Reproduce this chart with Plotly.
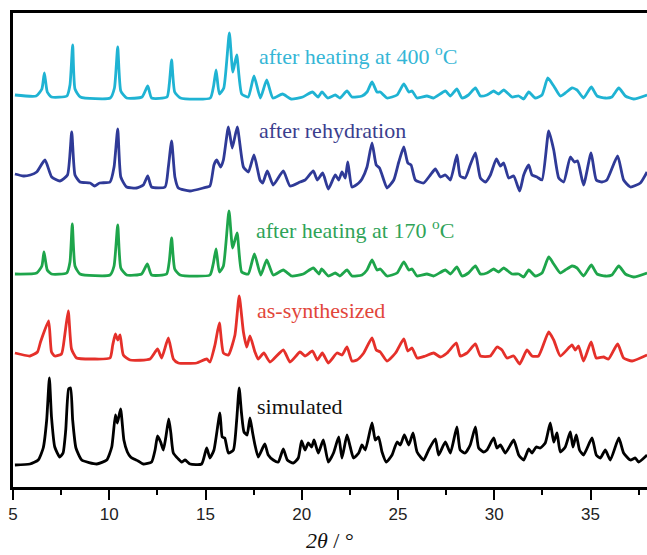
import plotly.graph_objects as go

# ---- Data: (2theta, intensity above own baseline, arbitrary units) ----
after_400C = [
    (5.1, 2), (6.2, 1), (6.5, 8), (6.63, 24), (6.78, 5), (7.0, 0), (7.8, 1), (7.96, 12), (8.1, 52),
    (8.22, 8), (8.5, 0), (10.05, -1), (10.27, 9), (10.44, 50), (10.6, 6), (10.9, -1), (11.7, 0),
    (12.0, 11), (12.2, -1), (13.0, 0), (13.12, 13), (13.24, 37), (13.4, 5), (13.7, -1), (15.25, -1),
    (15.42, 11), (15.55, 27), (15.72, 3), (15.95, 9), (16.24, 64), (16.42, 25), (16.62, 42),
    (16.88, 3), (17.22, 0), (17.52, 21), (17.85, -1), (18.18, 17), (18.5, -1), (19.0, 3),
    (19.45, -2), (20.05, 0), (20.55, 5), (20.85, 0), (21.05, 5), (21.35, -1),
    (21.74, 2), (21.98, -1), (22.35, 6), (22.61, 0), (23.13, 1), (23.39, 5), (23.65, 15), (23.91, 5),
    (24.08, 5), (24.43, -1), (24.95, 2), (25.3, 13), (25.56, 5), (25.73, 6), (25.99, -1), (26.5, 1),
    (26.85, -1), (27.46, 6), (27.72, 1), (28.06, 8), (28.32, -1), (28.66, 2), (29.02, 9), (29.28, 1),
    (29.62, 2), (29.97, 6), (30.23, 3), (30.49, 7), (30.92, 0), (31.27, 1), (31.53, -2), (31.79, 5),
    (32.13, -1), (32.48, 2), (32.78, 19), (33.09, 11), (33.43, 1), (33.69, 4), (34.04, 9), (34.3, 7),
    (34.64, -1), (35.04, 10), (35.34, 1), (35.77, -1), (36.11, 0), (36.47, 9), (36.81, 1),
    (37.24, -2), (37.94, 2),
]

after_rehydration = [
    (5.1, 16), (5.54, 14), (5.9, 15), (6.23, 18), (6.66, 30), (7.01, 13), (7.44, 9), (7.83, 15),
    (8.05, 58), (8.22, 15), (8.48, 8), (9.0, 7), (9.24, 4), (9.5, 7), (10.04, 8), (10.25, 23),
    (10.44, 61), (10.6, 13), (10.9, 3), (11.42, 2), (11.77, 5), (12.0, 14), (12.2, 3), (12.9, 3),
    (13.07, 23), (13.24, 49), (13.41, 13), (13.59, 2), (14.19, -1), (14.88, 2), (15.23, 4),
    (15.44, 25), (15.58, 30), (15.79, 23), (15.93, 30), (16.19, 63), (16.39, 42), (16.65, 63),
    (16.97, 23), (17.23, 18), (17.52, 35), (17.83, 10), (17.97, 7), (18.21, 19), (18.52, 5),
    (19.04, 19), (19.39, 4), (19.91, 8), (20.17, 10), (20.6, 19), (20.81, 10), (21.09, 17),
    (21.38, 1), (21.74, 15), (21.92, 10), (22.09, 18), (22.26, 12), (22.39, 28), (22.61, 3),
    (22.96, 7), (23.13, 11), (23.39, 23), (23.65, 47), (23.87, 25), (24.04, 22), (24.26, 10),
    (24.43, 2), (24.78, 10), (25.04, 28), (25.3, 43), (25.51, 27), (25.68, 25), (25.9, 10),
    (26.33, 7), (26.68, 15), (26.94, 21), (27.2, 13), (27.46, 15), (27.72, 10), (28.06, 35),
    (28.23, 14), (28.49, 12), (28.75, 25), (29.02, 37), (29.28, 12), (29.54, 8), (29.8, 15),
    (30.11, 31), (30.32, 24), (30.49, 27), (30.75, 12), (31.01, 14), (31.32, -1), (31.53, 15),
    (31.79, 25), (31.96, 15), (32.22, 13), (32.48, 10), (32.83, 59), (33.09, 40), (33.35, 12),
    (33.61, 8), (33.95, 33), (34.16, 28), (34.33, 29), (34.64, 5), (35.03, 37), (35.3, 10),
    (35.6, 8), (35.85, 10), (36.41, 34), (36.72, 10), (37.07, 3), (37.59, 7), (37.94, 18),
]

after_170C = [
    (5.1, 0), (6.23, 1), (6.5, 8), (6.61, 22), (6.78, 4), (7.0, 0), (7.79, 1), (7.96, 12), (8.08, 50),
    (8.22, 8), (8.48, 0), (10.04, -1), (10.25, 8), (10.44, 49), (10.6, 6), (10.9, -1), (11.68, 0),
    (11.98, 10), (12.2, -1), (12.98, 0), (13.12, 13), (13.24, 36), (13.4, 5), (13.68, -1),
    (15.23, -1), (15.4, 10), (15.55, 25), (15.72, 2), (15.93, 8), (16.22, 63), (16.41, 26),
    (16.64, 41), (16.88, 2), (17.22, 0), (17.54, 20), (17.87, -1), (18.18, 14), (18.52, -1),
    (19.04, 4), (19.48, -2), (20.08, 0), (20.6, 6), (20.9, 0), (21.03, 5), (21.38, -2),
    (21.74, 1), (21.98, -2), (22.35, 4), (22.61, -2), (23.13, -1), (23.39, 4), (23.65, 14),
    (23.91, 4), (24.08, 5), (24.43, -2), (24.95, 1), (25.3, 12), (25.56, 4), (25.73, 5), (25.99, -2),
    (26.5, 0), (26.85, -2), (27.46, 4), (27.72, 0), (28.06, 7), (28.32, -2), (28.66, 1), (29.02, 8),
    (29.28, 0), (29.62, 1), (29.97, 5), (30.23, 2), (30.49, 6), (30.92, 0), (31.27, 0), (31.53, -3),
    (31.79, 4), (32.13, -2), (32.48, 1), (32.83, 17), (33.09, 10), (33.43, 1), (33.69, 4),
    (34.04, 8), (34.3, 6), (34.64, -2), (35.04, 9), (35.34, 0), (35.77, -2), (36.11, -1),
    (36.47, 8), (36.81, 0), (37.24, -3), (37.94, 1),
]

as_synthesized = [
    (5.1, 10), (5.88, 7), (6.27, 11), (6.43, 21), (6.85, 42), (7.0, 11), (7.17, 7), (7.52, 9),
    (7.69, 28), (7.87, 52), (8.04, 14), (8.3, 5), (9.17, 4), (10.04, 5), (10.18, 18), (10.32, 29),
    (10.44, 23), (10.56, 28), (10.73, 8), (11.08, 3), (12.12, 4), (12.51, 14), (12.72, 5),
    (13.07, 25), (13.33, 4), (13.59, 0), (14.54, 0), (15.06, 4), (15.23, 1), (15.49, 18),
    (15.72, 40), (15.93, 10), (16.19, 8), (16.53, 28), (16.75, 67), (16.97, 31), (17.14, 16),
    (17.31, 27), (17.57, 11), (17.74, 4), (18.03, 10), (18.35, 1), (19.04, 13), (19.39, 1),
    (19.91, 11), (20.17, 7), (20.56, 12), (20.81, 3), (21.07, 10), (21.38, 0), (21.83, 10),
    (22.09, 8), (22.35, 16), (22.61, 2), (22.87, 3), (23.22, 10), (23.65, 25), (23.87, 13),
    (24.08, 11), (24.43, 2), (24.87, 10), (25.3, 24), (25.51, 12), (25.73, 15), (25.99, 5),
    (26.42, 7), (26.85, 10), (27.2, 6), (27.55, 10), (28.03, 20), (28.23, 7), (28.58, 10),
    (29.02, 19), (29.28, 7), (29.8, 7), (30.14, 16), (30.4, 13), (30.66, 5), (31.01, 7),
    (31.32, -1), (31.7, 13), (31.96, 7), (32.3, 7), (32.83, 31), (33.09, 23), (33.43, 7),
    (34.04, 18), (34.21, 13), (34.38, 17), (34.64, 2), (35.03, 21), (35.3, 5), (35.68, 6),
    (35.94, 4), (36.41, 19), (36.72, 5), (37.16, 2), (37.94, 8),
]

simulated = [
    (5.1, 0), (5.88, 1), (6.31, 5), (6.57, 17), (6.75, 45), (6.89, 87), (7.0, 48), (7.17, 18),
    (7.43, 8), (7.6, 12), (7.74, 35), (7.89, 76), (7.99, 77), (8.1, 45), (8.27, 17), (8.57, 5),
    (9.35, 1), (9.87, 5), (10.13, 18), (10.32, 50), (10.42, 42), (10.59, 56), (10.76, 25),
    (10.94, 13), (11.11, 8), (11.28, 6), (11.5, 4), (11.77, 1), (12.2, 3), (12.38, 15), (12.51, 29),
    (12.67, 23), (12.81, 15), (12.94, 28), (13.09, 46), (13.2, 32), (13.33, 12), (13.59, 6),
    (13.76, 3), (13.94, 5), (14.2, 1), (14.8, 1), (15.06, 17), (15.23, 7), (15.44, 15),
    (15.75, 52), (15.87, 28), (16.0, 27), (16.19, 12), (16.45, 15), (16.62, 45), (16.75, 77),
    (16.87, 52), (17.0, 33), (17.16, 30), (17.31, 47), (17.45, 32), (17.57, 20), (17.74, 8),
    (18.08, 21), (18.26, 10), (18.52, 5), (18.78, 3), (19.04, 16), (19.25, 5), (19.56, 2),
    (19.82, 7), (19.99, 24), (20.17, 15), (20.34, 22), (20.51, 18), (20.64, 25), (20.86, 12),
    (21.12, 25), (21.38, 3), (21.65, 12), (21.92, 28), (22.09, 7), (22.35, 30), (22.52, 18),
    (22.69, 7), (22.96, 12), (23.13, 20), (23.3, 15), (23.65, 42), (23.82, 25), (23.99, 28),
    (24.17, 13), (24.39, 3), (24.69, 10), (24.95, 23), (25.12, 20), (25.33, 30), (25.56, 20),
    (25.78, 32), (25.99, 13), (26.33, 5), (26.59, 15), (26.94, 26), (27.11, 10), (27.46, 23),
    (27.72, 12), (28.06, 38), (28.23, 15), (28.49, 12), (28.75, 20), (29.02, 38), (29.19, 17),
    (29.45, 13), (29.62, 15), (29.97, 27), (30.14, 17), (30.32, 20), (30.58, 12), (31.01, 25),
    (31.27, 10), (31.53, 5), (31.79, 16), (31.96, 12), (32.18, 18), (32.39, 17), (32.65, 22),
    (32.91, 42), (33.09, 23), (33.26, 32), (33.43, 13), (33.69, 18), (33.95, 33), (34.09, 18),
    (34.26, 30), (34.43, 15), (34.64, 10), (35.08, 27), (35.3, 10), (35.51, 7), (35.77, 15),
    (36.03, 5), (36.47, 27), (36.72, 12), (37.07, 5), (37.33, 7), (37.5, 3), (37.94, 10),
]

series_data = [after_400C, after_rehydration, after_170C, as_synthesized, simulated]
series_labels = ["after heating at 400 <sup>o</sup>C", "after rehydration",
                 "after heating at 170 <sup>o</sup>C", "as-synthesized", "simulated"]
stack_offsets = [390, 297, 213, 124, 22]
label_levels = [432, 357, 258, 177, 81]
label_starts = [17.68, 17.68, 17.52, 17.57, 17.57]
line_colors = ["#1fb3d3", "#2f3a97", "#1ea54b", "#e5302a", "#000000"]
text_colors = ["#35b6d6", "#3b3e8e", "#2fa358", "#e2463a", "#111111"]
tick_values = [5, 10, 15, 20, 25, 30, 35]

fig = go.Figure()
for data, off, col in zip(series_data, stack_offsets, line_colors):
    xs = [p[0] for p in data]
    ys = [p[1] + off for p in data]
    fig.add_trace(go.Scatter(x=xs, y=ys, mode="lines",
                             line=dict(color=col, width=2.8, shape="spline", smoothing=0.5),
                             showlegend=False, hoverinfo="skip"))

for lab, lvl, xs, tc in zip(series_labels, label_levels, label_starts, text_colors):
    fig.add_annotation(x=xs, y=lvl, xref="x", yref="y", text=lab, showarrow=False,
                       xanchor="left", yanchor="middle",
                       font=dict(family="Liberation Serif", size=22, color=tc))

fig.add_annotation(x=0.5, y=-0.112, xref="paper", yref="paper",
                   text="<i>2θ</i> / °", showarrow=False, xanchor="center", yanchor="middle",
                   font=dict(family="Liberation Serif", size=22, color="#111111"))

fig.update_layout(
    width=647, height=555,
    margin=dict(l=13, r=0, t=13, b=68, autoexpand=False),
    paper_bgcolor="white", plot_bgcolor="white",
    xaxis=dict(range=[5, 5 + 634 / 19.25], tickvals=tick_values, ticks="outside",
               ticklen=10, tickwidth=2, tickcolor="black",
               minor=dict(tickvals=[7.5, 12.5, 17.5, 22.5, 27.5, 32.5, 37.5], ticks="outside",
                          ticklen=5, tickwidth=2, tickcolor="black"),
               showline=True, linecolor="black", linewidth=2.5, mirror=True,
               showgrid=False, zeroline=False,
               tickfont=dict(family="Liberation Sans", size=17, color="#222222")),
    yaxis=dict(range=[0, 474], showline=True, linecolor="black", linewidth=2.5,
               showticklabels=False, ticks="", showgrid=False, zeroline=False),
)

fig.write_html("out.html", config={"displayModeBar": False},
               post_script="document.body.style.margin='0';document.body.style.overflow='hidden';")
